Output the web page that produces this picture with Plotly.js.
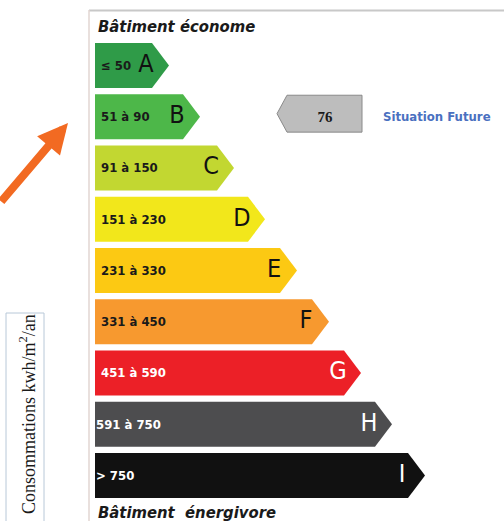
<!DOCTYPE html>
<html>
<head>
<meta charset="utf-8">
<script src="https://cdn.plot.ly/plotly-3.0.1.min.js"></script>
<style>html,body{margin:0;padding:0;background:#fff;}#chart{width:504px;height:521px;}</style>
</head>
<body>
<div id="chart"></div>
<script>
// ---- data ----
const classes = ['A','B','C','D','E','F','G','H','I'];
const ranges = ['≤ 50','51 à 90','91 à 150','151 à 230','231 à 330','331 à 450','451 à 590','591 à 750','> 750'];
const barLength = [57, 88, 122, 153, 185, 217, 249, 280, 313];
const barColors = ['#2f9b48','#4db749','#c2d731','#f2e71b','#fcc913','#f7992f','#ec2027','#4d4d4f','#111111'];
const letterColors = ['#111','#111','#111','#111','#111','#111','#fff','#fff','#fff'];
const rangeColors = ['#1a1a1a','#1a1a1a','#1a1a1a','#1a1a1a','#1a1a1a','#1a1a1a','#fff','#fff','#fff'];
const rangeOffset = [6,6,6,6,6,6,6,1,1];
const futureValue = 76;
const futureClassIndex = 1;
const futureLabel = 'Situation Future';
const topLabel = 'Bâtiment économe';
const bottomLabel = 'Bâtiment\u00a0 énergivore';
const yLabel = 'Consommations kwh/m<sup>2</sup>/an';

const TIP = 17, HALF = 0.44;
const sansFont = '"DejaVu Sans Condensed", "Liberation Sans", Arial, sans-serif';
const traces = [];
classes.forEach((c, i) => {
  const e = barLength[i];
  traces.push({
    type: 'scatter', mode: 'lines', fill: 'toself',
    x: [0, e, e + TIP, e, 0, 0],
    y: [i - HALF, i - HALF, i, i + HALF, i + HALF, i - HALF],
    fillcolor: barColors[i], line: {width: 0, color: barColors[i]},
    hoverinfo: 'skip', showlegend: false
  });
});
// letters
traces.push({
  type: 'scatter', mode: 'text',
  x: barLength.map(e => e - 6), y: classes.map((c, i) => i),
  text: classes, textposition: 'middle center',
  textfont: {family: sansFont, size: 25, color: letterColors},
  hoverinfo: 'skip', showlegend: false
});
// range labels
traces.push({
  type: 'scatter', mode: 'text',
  x: rangeOffset, y: classes.map((c, i) => i + 0.02),
  text: ranges, textposition: 'middle right',
  textfont: {family: sansFont, size: 13, weight: 'bold', color: rangeColors},
  hoverinfo: 'skip', showlegend: false
});
// future situation arrow
const fy = futureClassIndex - 0.06, fh = 0.36;
const fx0 = 182, fx1 = 192, fx2 = 267;
traces.push({
  type: 'scatter', mode: 'lines', fill: 'toself',
  x: [fx0, fx1, fx2, fx2, fx1, fx0],
  y: [fy, fy - fh, fy - fh, fy + fh, fy + fh, fy],
  fillcolor: '#bdbdbd', line: {width: 1, color: '#8a8a8a'},
  hoverinfo: 'skip', showlegend: false
});
traces.push({
  type: 'scatter', mode: 'text',
  x: [230], y: [futureClassIndex + 0.03], text: [String(futureValue)],
  textposition: 'middle center',
  textfont: {family: '"Liberation Serif", "Times New Roman", serif', size: 15, weight: 'bold', color: '#1a1a1a'},
  hoverinfo: 'skip', showlegend: false
});
traces.push({
  type: 'scatter', mode: 'text',
  x: [288], y: [futureClassIndex + 0.02], text: [futureLabel],
  textposition: 'middle right',
  textfont: {family: sansFont, size: 13, weight: 'bold', color: '#4a70c0'},
  hoverinfo: 'skip', showlegend: false
});

const layout = {
  width: 504, height: 521, autosize: false,
  margin: {l: 0, r: 0, t: 0, b: 0},
  paper_bgcolor: '#fff', plot_bgcolor: '#fff',
  xaxis: {range: [-95, 409], visible: false, fixedrange: true},
  yaxis: {range: [(521 - 65.5) / 51.25, (0 - 65.5) / 51.25], visible: false, fixedrange: true},
  showlegend: false,
  shapes: [
    {type: 'line', xref: 'x', yref: 'paper', x0: -6, x1: 420, y0: 1 - 10.5/521, y1: 1 - 10.5/521, line: {color: '#c8c8c8', width: 2}},
    {type: 'line', xref: 'x', yref: 'paper', x0: -6, x1: -6, y0: 1 - 10/521, y1: -0.05, line: {color: '#e2d6d2', width: 1.5}},
    {type: 'rect', xref: 'x', yref: 'paper', x0: -89, x1: -51, y0: -0.1, y1: 1 - 313/521, line: {color: '#b8c8d8', width: 1}}
  ],
  annotations: [
    {xref: 'x', yref: 'paper', x: 1, y: 1 - 27/521, xanchor: 'left', yanchor: 'middle', showarrow: false,
     text: '<b><i>' + topLabel + '</i></b>', font: {family: sansFont, size: 16.5, color: '#1a1a1a'}},
    {xref: 'x', yref: 'paper', x: 1, y: 1 - 512/521, xanchor: 'left', yanchor: 'middle', showarrow: false,
     text: '<b><i>' + bottomLabel + '</i></b>', font: {family: sansFont, size: 16.5, color: '#1a1a1a'}},
    {xref: 'x', yref: 'paper', x: -68, y: 1 - 414/521, xanchor: 'center', yanchor: 'middle', showarrow: false,
     textangle: -90, text: yLabel, font: {family: '"Liberation Serif", "Times New Roman", serif', size: 18, color: '#1a1a1a'}},
    {xref: 'x', yref: 'paper', x: 68 - 95, y: 1 - 123/521, ax: -80, ay: 80, axref: 'pixel', ayref: 'pixel',
     showarrow: true, arrowhead: 2, arrowsize: 0.75, arrowwidth: 8, arrowcolor: '#f26a22', text: ''}
  ]
};
Plotly.newPlot('chart', traces, layout, {displayModeBar: false, staticPlot: true});
</script>
</body>
</html>
